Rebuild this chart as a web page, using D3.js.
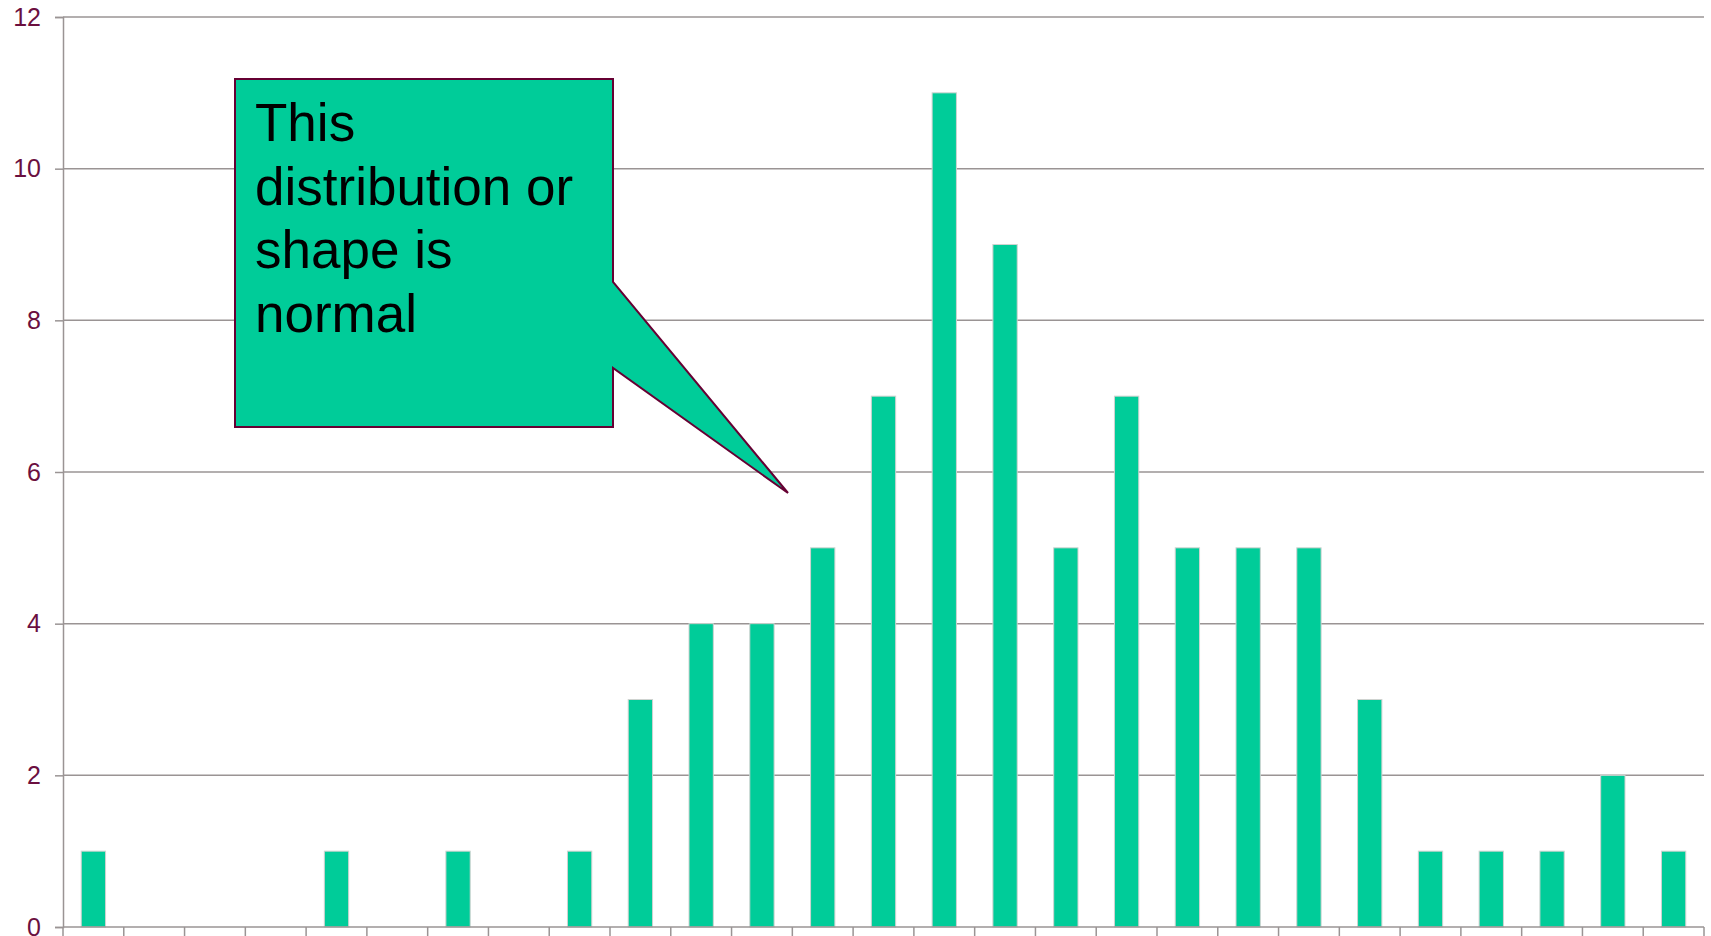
<!DOCTYPE html>
<html>
<head>
<meta charset="utf-8">
<script src="https://cdn.jsdelivr.net/npm/d3@7"></script>
<style>
  html, body { margin: 0; padding: 0; background: #fff; overflow: hidden; }
  svg { display: block; }
</style>
</head>
<body>
<svg id="chart" width="1711" height="936"></svg>
<script>
// Frequency of each bin (27 bins, left to right)
const bins = d3.range(1, 28);
const counts = [1, 0, 0, 0, 1, 0, 1, 0, 1, 3, 4, 4, 5, 7, 11, 9, 5, 7, 5, 5, 5, 3, 1, 1, 1, 2, 1];
const yTicks = [0, 2, 4, 6, 8, 10, 12];
const calloutLines = ["This", "distribution or", "shape is", "normal"];

const svg = d3.select("#chart");
const margin = { left: 63, right: 7, top: 17, bottom: 9 };
const W = 1711, H = 936;

const x = d3.scaleBand()
  .domain(bins)
  .range([margin.left, W - margin.right])
  .paddingInner(0.6)
  .paddingOuter(0.3);

const y = d3.scaleLinear()
  .domain([0, 12])
  .range([H - margin.bottom, margin.top]);

const gridColor = "#9a9494";

// horizontal gridlines
svg.append("g")
  .selectAll("line")
  .data(yTicks.filter(d => d > 0))
  .join("line")
  .attr("x1", margin.left)
  .attr("x2", W - margin.right)
  .attr("y1", d => y(d))
  .attr("y2", d => y(d))
  .attr("stroke", gridColor)
  .attr("stroke-width", 1.5);

// y axis
const yAxis = svg.append("g")
  .attr("transform", `translate(${margin.left},0)`)
  .call(d3.axisLeft(y).tickValues(yTicks).tickSize(8).tickPadding(14).tickFormat(d3.format("d")));
yAxis.selectAll("path, line").attr("stroke", gridColor).attr("stroke-width", 1.5);
yAxis.selectAll("text")
  .attr("fill", "#6b0f3f")
  .attr("font-family", "Liberation Sans, Arial, sans-serif")
  .attr("font-size", 25);

// bars
svg.append("g")
  .selectAll("rect")
  .data(counts.map((c, i) => ({ bin: bins[i], count: c })).filter(d => d.count > 0))
  .join("rect")
  .attr("x", d => x(d.bin))
  .attr("width", x.bandwidth())
  .attr("y", d => y(d.count))
  .attr("height", d => y(0) - y(d.count))
  .attr("fill", "#00cc99")
  .attr("stroke", "#cfd3d0")
  .attr("stroke-width", 1);

// x axis: category boundaries marked with ticks below the baseline
const step = x.step();
const boundaries = d3.range(bins.length + 1).map(i => margin.left + i * step);
const xg = svg.append("g");
xg.append("line")
  .attr("x1", margin.left).attr("x2", W - margin.right)
  .attr("y1", y(0)).attr("y2", y(0))
  .attr("stroke", gridColor).attr("stroke-width", 1.5);
xg.selectAll("line.tick")
  .data(boundaries)
  .join("line")
  .attr("class", "tick")
  .attr("x1", d => d).attr("x2", d => d)
  .attr("y1", y(0)).attr("y2", y(0) + 10)
  .attr("stroke", gridColor).attr("stroke-width", 1.5);

// callout box with pointer
const box = { x0: 235, y0: 79, x1: 613, y1: 427 };
const tip = { x: 788, y: 493 };
const pTop = 282, pBot = 368;
const calloutPath = d3.path();
calloutPath.moveTo(box.x0, box.y0);
calloutPath.lineTo(box.x1, box.y0);
calloutPath.lineTo(box.x1, pTop);
calloutPath.lineTo(tip.x, tip.y);
calloutPath.lineTo(box.x1, pBot);
calloutPath.lineTo(box.x1, box.y1);
calloutPath.lineTo(box.x0, box.y1);
calloutPath.closePath();

svg.append("path")
  .attr("d", calloutPath.toString())
  .attr("fill", "#00cc99")
  .attr("stroke", "#660033")
  .attr("stroke-width", 2)
  .attr("stroke-linejoin", "miter");

svg.append("text")
  .attr("font-family", "Liberation Sans, Arial, sans-serif")
  .attr("font-size", 53)
  .attr("fill", "#000")
  .selectAll("tspan")
  .data(calloutLines)
  .join("tspan")
  .attr("x", 255)
  .attr("y", (d, i) => 141 + i * 63.7)
  .text(d => d);
</script>
</body>
</html>
